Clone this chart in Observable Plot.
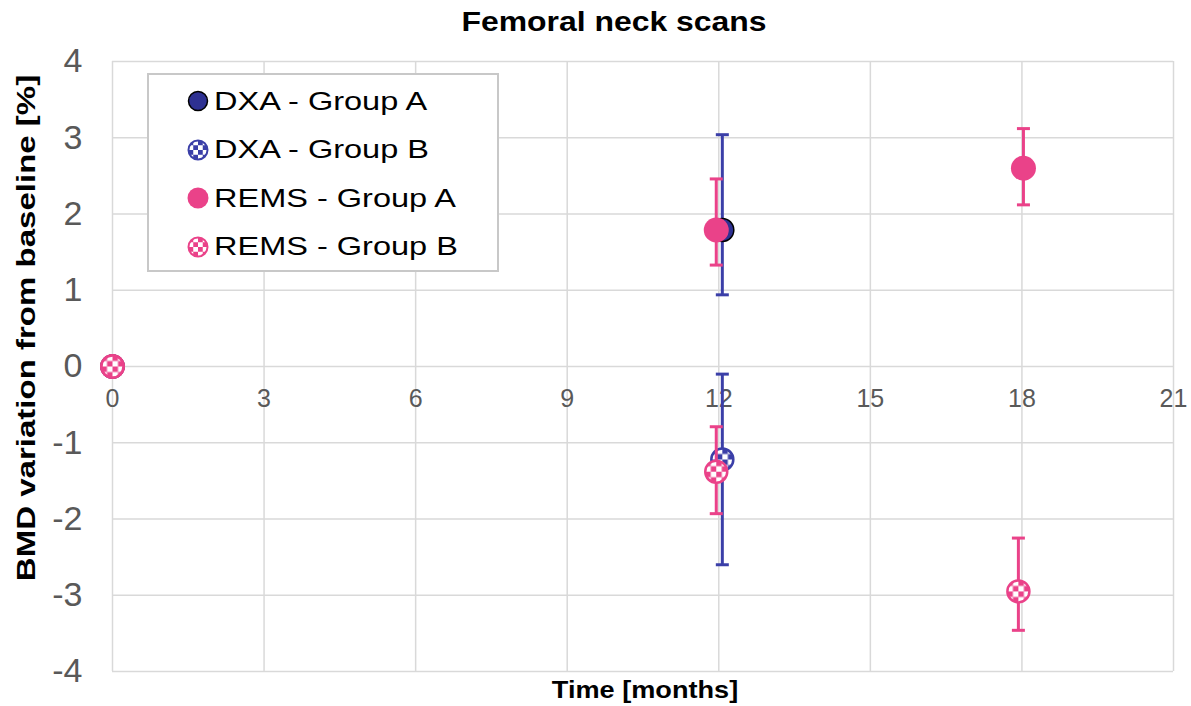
<!DOCTYPE html>
<html>
<head>
<meta charset="utf-8">
<script src="https://cdn.jsdelivr.net/npm/d3@7"></script>
<script src="https://cdn.jsdelivr.net/npm/@observablehq/plot@0.6"></script>
<style>
  html, body { margin: 0; padding: 0; background: #fff; }
  body { font-family: "Liberation Sans", Arial, sans-serif; }
  #wrap { position: relative; width: 1191px; height: 706px; overflow: hidden; }
  .title { position: absolute; left: 614px; top: 22px; transform: translate(-50%, -50%) scaleX(1.14); font-weight: bold; font-size: 28px; white-space: nowrap; color: #000; }
  .xlab { position: absolute; left: 645px; top: 690px; transform: translate(-50%, -50%) scaleX(1.13); font-weight: bold; font-size: 24px; white-space: nowrap; color: #000; }
  .ylab { position: absolute; left: 26px; top: 328px; transform: translate(-50%, -50%) rotate(-90deg) scaleX(1.27); font-weight: bold; font-size: 26px; white-space: nowrap; color: #000; }
  .legend { position: absolute; left: 147px; top: 73px; width: 348px; height: 195px; border: 2px solid #c8c8c8; background: #fff; }
  .legend .row { position: absolute; left: 38px; height: 40px; display: flex; align-items: center; font-size: 25px; color: #000; white-space: nowrap; }
  .legend .row svg { margin-right: 5px; }
  .legend .row span { display: inline-block; transform: scaleX(1.3); transform-origin: left center; }
</style>
</head>
<body>
<svg width="0" height="0" style="position:absolute">
  <defs>
    <pattern id="chkBlue" patternUnits="objectBoundingBox" patternContentUnits="objectBoundingBox" width="0.5" height="0.5">
      <rect x="0" y="0" width="0.5" height="0.5" fill="#ffffff"/>
      <rect x="0" y="0" width="0.25" height="0.25" fill="#3b3fa8"/>
      <rect x="0.25" y="0.25" width="0.25" height="0.25" fill="#3b3fa8"/>
    </pattern>
    <pattern id="chkPink" patternUnits="objectBoundingBox" patternContentUnits="objectBoundingBox" width="0.5" height="0.5">
      <rect x="0" y="0" width="0.5" height="0.5" fill="#ffffff"/>
      <rect x="0" y="0" width="0.25" height="0.25" fill="#ea4289"/>
      <rect x="0.25" y="0.25" width="0.25" height="0.25" fill="#ea4289"/>
    </pattern>
  </defs>
</svg>
<div id="wrap"></div>
<script>
// ---- data ----
const seriesNames = ["DXA - Group A", "DXA - Group B", "REMS - Group A", "REMS - Group B"];

const dxaA_x  = [0, 12.07];
const dxaA_y  = [0, 1.79];
const dxaA_lo = [null, 0.94];
const dxaA_hi = [null, 3.04];

const dxaB_x  = [0, 12.07];
const dxaB_y  = [0, -1.22];
const dxaB_lo = [null, -2.60];
const dxaB_hi = [null, -0.10];

const remsA_x  = [0, 11.95, 18.03];
const remsA_y  = [0, 1.79, 2.60];
const remsA_lo = [null, 1.33, 2.12];
const remsA_hi = [null, 2.46, 3.12];

const remsB_x  = [0, 11.95, 17.93];
const remsB_y  = [0, -1.38, -2.95];
const remsB_lo = [null, -1.93, -3.46];
const remsB_hi = [null, -0.79, -2.25];

const xTicks = [0, 3, 6, 9, 12, 15, 18, 21];
const yTicks = [-4, -3, -2, -1, 0, 1, 2, 3, 4];

// ---- styles ----
const BLUE = "#3b3fa8", NAVY = "#2e3192", PINK = "#ea4289";
const styles = [
  {bar: BLUE, fill: NAVY, stroke: "#000", sw: 1.5, r: 11.5},
  {bar: BLUE, fill: "url(#chkBlue)", stroke: BLUE, sw: 2.5, r: 11},
  {bar: PINK, fill: PINK, stroke: "none", sw: 0, r: 12.5},
  {bar: PINK, fill: "url(#chkPink)", stroke: PINK, sw: 2.5, r: 11}
];

function rows(name, xs, ys, lo, hi) {
  return xs.map((x, i) => ({series: name, x, y: ys[i], lo: lo[i], hi: hi[i]}));
}
const data = [
  rows(seriesNames[0], dxaA_x, dxaA_y, dxaA_lo, dxaA_hi),
  rows(seriesNames[1], dxaB_x, dxaB_y, dxaB_lo, dxaB_hi),
  rows(seriesNames[2], remsA_x, remsA_y, remsA_lo, remsA_hi),
  rows(seriesNames[3], remsB_x, remsB_y, remsB_lo, remsB_hi)
];

const hline = {
  draw(context, size) {
    const r = Math.sqrt(size / Math.PI);
    context.moveTo(-r, 0);
    context.lineTo(r, 0);
  }
};

const marks = [
  Plot.gridY(yTicks, {stroke: "#d9d9d9", strokeOpacity: 1, strokeWidth: 1.5}),
  Plot.gridX(xTicks, {stroke: "#d9d9d9", strokeOpacity: 1, strokeWidth: 1.5}),
  Plot.axisY(yTicks, {tickSize: 0, tickPadding: 30, fontSize: 34, fill: "#595959", label: null, tickFormat: d => String(d), ariaLabel: "yticks"}),
  Plot.text(xTicks, {x: d => d, y: 0, dy: 32, text: d => String(d), fontSize: 25, fill: "#595959"})
];

data.forEach((d, i) => {
  const s = styles[i];
  const eb = d.filter(r => r.lo != null);
  marks.push(
    Plot.ruleX(eb, {x: "x", y1: "lo", y2: "hi", stroke: s.bar, strokeWidth: 3}),
    Plot.dot(eb, {x: "x", y: "lo", symbol: hline, r: 6.5, stroke: s.bar, strokeWidth: 3}),
    Plot.dot(eb, {x: "x", y: "hi", symbol: hline, r: 6.5, stroke: s.bar, strokeWidth: 3}),
    Plot.dot(d, {x: "x", y: "y", r: s.r, fill: s.fill, stroke: s.stroke, strokeWidth: s.sw, fillOpacity: 1})
  );
});

const chart = Plot.plot({
  width: 1191,
  height: 706,
  marginLeft: 112,
  marginRight: 18,
  marginTop: 61,
  marginBottom: 35,
  style: {fontFamily: "'Liberation Sans', Arial, sans-serif", background: "transparent"},
  x: {domain: [0, 21], axis: null},
  y: {domain: [-4, 4], axis: null},
  marks
});

// wider spacing for y tick labels (like the reference's spaced minus sign)
chart.querySelectorAll('[aria-label="yticks"] text').forEach(t => t.setAttribute("letter-spacing", "8"));

const wrap = document.getElementById("wrap");
wrap.appendChild(chart);

function addDiv(cls, text) {
  const el = document.createElement("div");
  el.className = cls;
  el.textContent = text;
  wrap.appendChild(el);
  return el;
}
addDiv("title", "Femoral neck scans");
addDiv("xlab", "Time [months]");
addDiv("ylab", "BMD variation from baseline [%]");

// legend
const legend = document.createElement("div");
legend.className = "legend";
const legendFill = [NAVY, "url(#chkBlue)", PINK, "url(#chkPink)"];
const legendStroke = ["#000", BLUE, "none", PINK];
const legendSW = [1.5, 2, 0, 2];
seriesNames.forEach((name, i) => {
  const row = document.createElement("div");
  row.className = "row";
  row.style.top = (6 + i * 48.5) + "px";
  row.innerHTML = `<svg width="22" height="22" viewBox="0 0 22 22"><circle cx="11" cy="11" r="${i === 2 ? 10.5 : 9.5}" fill="${legendFill[i]}" stroke="${legendStroke[i]}" stroke-width="${legendSW[i]}"/></svg><span>${name}</span>`;
  legend.appendChild(row);
});
wrap.appendChild(legend);
</script>
</body>
</html>
